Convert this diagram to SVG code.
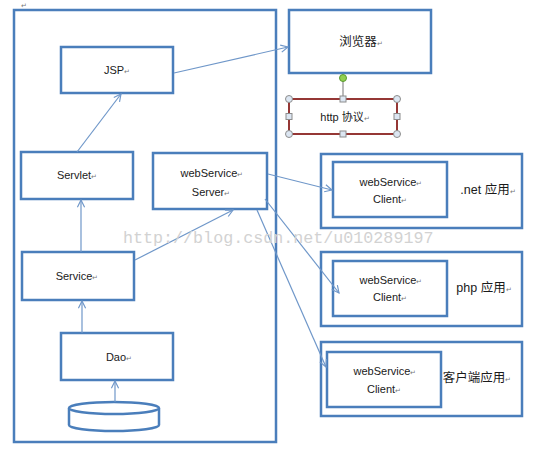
<svg xmlns="http://www.w3.org/2000/svg" width="539" height="454" viewBox="0 0 539 454">
<style>
.box{fill:#fff;stroke:#4a7ebb;stroke-width:2.5}
.frame{fill:none;stroke:#4a7ebb;stroke-width:2.5}
.conn{fill:none;stroke:#6f97c9;stroke-width:1.2}
.t{font-family:"Liberation Sans","Noto Sans CJK SC",sans-serif;font-size:11px;fill:#1a1a1a;text-anchor:middle}
.c{font-family:"Liberation Sans","Noto Sans CJK SC",sans-serif;font-size:12.5px;fill:#1a1a1a;text-anchor:middle}
.pm{font-size:7px;fill:#777}
.h{fill:#dce6f2;stroke:#8c8c8c;stroke-width:1}
.wm{font-family:"Liberation Mono",monospace;font-size:16.7px;fill:#d2d2d2}
</style>
<defs>
<marker id="arr" viewBox="0 0 10 10" refX="9" refY="5" markerWidth="9" markerHeight="9" markerUnits="userSpaceOnUse" orient="auto">
<polyline points="1,1 9,5 1,9" fill="none" stroke="#6f97c9" stroke-width="1.3"/>
</marker>
</defs>
<rect width="539" height="454" fill="#fff"/>
<text x="21" y="8" class="t pm" style="text-anchor:start">↵</text>
<g id="container"><rect class="frame" x="14" y="10" width="262" height="432"/></g>
<g id="jsp"><rect class="box" x="61" y="47" width="112" height="46"/><text class="t" x="117" y="74">JSP<tspan class="pm">↵</tspan></text></g>
<g id="servlet"><rect class="box" x="21" y="152" width="112" height="47"/><text class="t" x="77" y="179">Servlet<tspan class="pm">↵</tspan></text></g>
<g id="wsserver"><rect class="box" x="153" y="153" width="114" height="56"/><text class="t" x="212" y="177">webService<tspan class="pm">↵</tspan></text><text class="t" x="211" y="196">Server<tspan class="pm">↵</tspan></text></g>
<g id="service"><rect class="box" x="22" y="252" width="112" height="48"/><text class="t" x="77" y="280">Service<tspan class="pm">↵</tspan></text></g>
<g id="dao"><rect class="box" x="61" y="333" width="112" height="47"/><text class="t" x="119" y="361">Dao<tspan class="pm">↵</tspan></text></g>
<g id="db">
<path d="M69,408 L69,425 A45,6 0 0 0 159,425 L159,408" fill="#fff" stroke="#4a7ebb" stroke-width="2.5"/>
<ellipse cx="114" cy="408" rx="45" ry="6" fill="#fff" stroke="#4a7ebb" stroke-width="2.5"/>
</g>
<g id="browser"><rect class="box" x="289" y="10" width="142" height="63"/><text class="c" x="361" y="46">浏览器<tspan class="pm">↵</tspan></text></g>
<g id="netapp">
<rect class="box" x="321" y="154" width="201" height="74"/>
<rect class="box" x="333" y="162" width="114" height="55"/>
<text class="t" x="391" y="186">webService<tspan class="pm">↵</tspan></text><text class="t" x="390" y="203">Client<tspan class="pm">↵</tspan></text>
<text class="c" x="488" y="194">.net 应用<tspan class="pm">↵</tspan></text>
</g>
<g id="phpapp">
<rect class="box" x="321" y="252" width="201" height="74"/>
<rect class="box" x="333" y="261" width="114" height="55"/>
<text class="t" x="391" y="284">webService<tspan class="pm">↵</tspan></text><text class="t" x="390" y="301">Client<tspan class="pm">↵</tspan></text>
<text class="c" x="484" y="292">php 应用<tspan class="pm">↵</tspan></text>
</g>
<g id="clientapp">
<rect class="box" x="321" y="342" width="201" height="74"/>
<rect class="box" x="327" y="352" width="114" height="55"/>
<text class="t" x="385" y="375">webService<tspan class="pm">↵</tspan></text><text class="t" x="384" y="393">Client<tspan class="pm">↵</tspan></text>
<text class="c" x="477" y="382">客户端应用<tspan class="pm">↵</tspan></text>
</g>
<g id="connectors">
<line class="conn" x1="77" y1="152" x2="121" y2="94" marker-end="url(#arr)"/>
<line class="conn" x1="81" y1="252" x2="81" y2="200" marker-end="url(#arr)"/>
<line class="conn" x1="82" y1="333" x2="82" y2="301" marker-end="url(#arr)"/>
<line class="conn" x1="115" y1="402" x2="115" y2="381" marker-end="url(#arr)"/>
<line class="conn" x1="135" y1="260" x2="233" y2="210" marker-end="url(#arr)"/>
<line class="conn" x1="174" y1="73" x2="288" y2="47" marker-end="url(#arr)"/>
<line class="conn" x1="268" y1="174" x2="332" y2="190" marker-end="url(#arr)"/>
<line class="conn" x1="265" y1="199" x2="339" y2="293" marker-end="url(#arr)"/>
<line class="conn" x1="257" y1="210" x2="326" y2="367" marker-end="url(#arr)"/>
<line x1="343" y1="79" x2="343" y2="99" stroke="#8c8c8c" stroke-width="1.2"/>
</g>
<g id="http">
<rect x="289" y="99" width="108" height="35" fill="#fff" stroke="#953735" stroke-width="2"/>
<text class="t" x="345" y="121">http 协议<tspan class="pm">↵</tspan></text>
<circle class="h" cx="289" cy="99" r="3.5"/><circle class="h" cx="397" cy="99" r="3.5"/>
<circle class="h" cx="289" cy="134" r="3.5"/><circle class="h" cx="397" cy="134" r="3.5"/>
<rect class="h" x="340" y="96" width="6" height="6"/><rect class="h" x="340" y="131" width="6" height="6"/>
<rect class="h" x="286" y="113.5" width="6" height="6"/><rect class="h" x="394" y="113.5" width="6" height="6"/>
<circle cx="343" cy="78" r="3.5" fill="#92d050" stroke="#5a9a30" stroke-width="1"/>
</g>
<text class="wm" x="123" y="243">http://blog.csdn.net/u010289197</text>
</svg>
